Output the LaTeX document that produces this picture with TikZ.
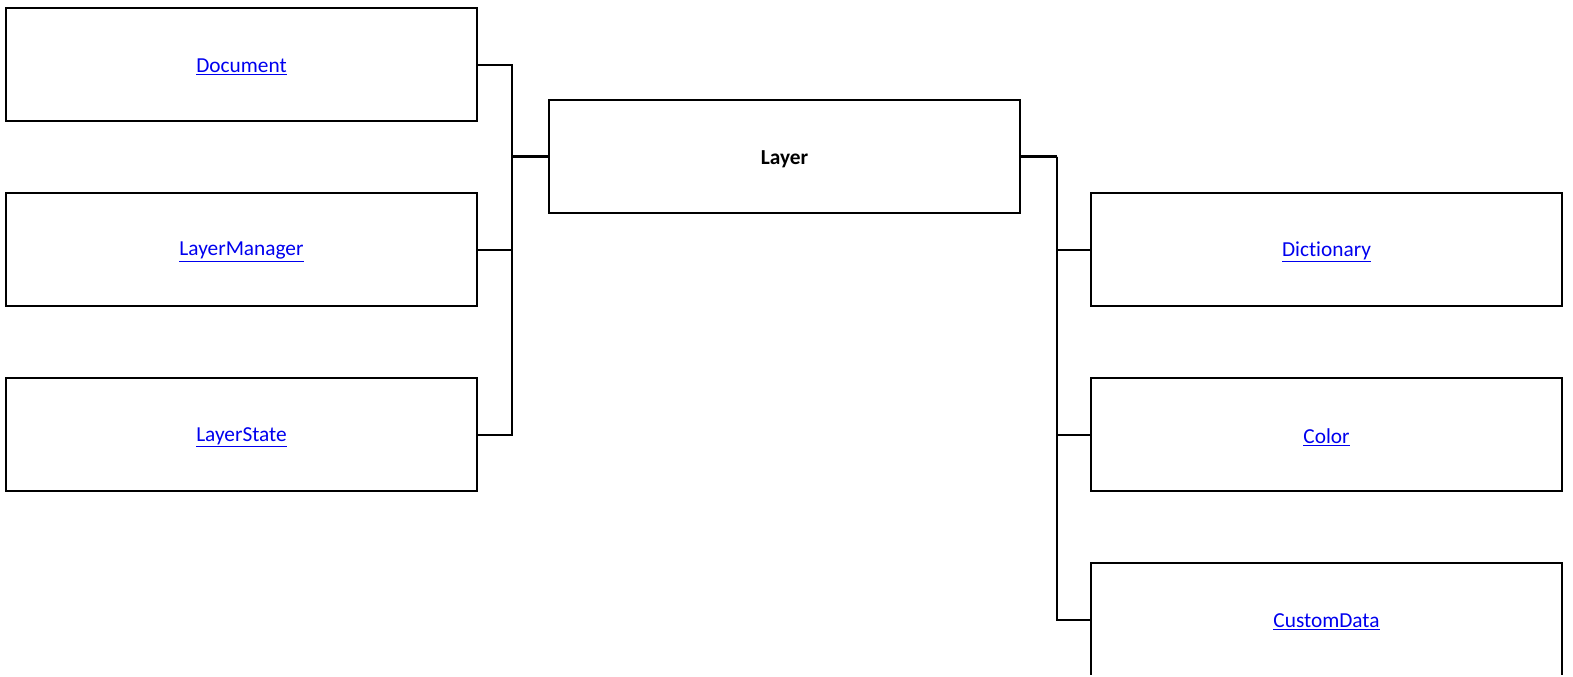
\documentclass[tikz,border=0pt]{standalone}
\usepackage{fontspec}
\setmainfont[Ligatures=NoCommon]{Carlito}
\usepackage{tikz}
\usetikzlibrary{positioning,calc}
\definecolor{linkBlue}{RGB}{0,0,238}
\tikzset{
	cbox/.style={
		draw=black,
		line width=1.5pt,
		minimum width=353.25pt,
		minimum height=84.75pt,
		inner sep=0pt,
		font=\fontsize{16}{19}\selectfont
	},
	clink/.style={text=linkBlue},
	cline/.style={line width=1.5pt, black}
}
\newcommand{\down}[1]{\raisebox{-2pt}[\height][\depth]{#1}}
\newcommand{\lnk}[1]{\down{\underline{#1}}}

\begin{document}
\begin{tikzpicture}[x=0.75pt, y=-0.75pt]
		\useasboundingbox (0,0) rectangle (1573,676);
		\clip (0,0) rectangle (1573,674);
		% centre class
		\node[cbox] (layer) at (784.5,156.5) {\down{\textbf{Layer}}};
		% left side
		\node[cbox, clink] (doc) at (241.5,64.5) {\lnk{Document}};
		\node[cbox, clink] (mgr) at (241.5,249.5) {\lnk{LayerManager}};
		\node[cbox, clink] (state) at (241.5,434.5) {\lnk{LayerState}};
		% right side
		\node[cbox, clink] (dict) at (1326.5,249.5) {\lnk{Dictionary}};
		\node[cbox, clink] (color) at (1326.5,434.5) {\lnk{Color}};
		\node[cbox, clink] (cdata) at (1326.5,619.5) {\lnk{CustomData}};
		% connectors
		\draw[cline, line width=2.2pt] (layer.west) -- ++(-36,0) coordinate (busL);
		\draw[cline] (doc.east) -| (busL);
		\draw[cline] (mgr.east) -| (busL);
		\draw[cline] (state.east) -| (busL);
		\draw[cline, line width=2.2pt] (layer.east) -- ++(36,0) coordinate (busR);
		\draw[cline] (busR) |- (dict.west);
		\draw[cline] (busR) |- (color.west);
		\draw[cline] (busR) |- (cdata.west);
	\end{tikzpicture}
\end{document}
